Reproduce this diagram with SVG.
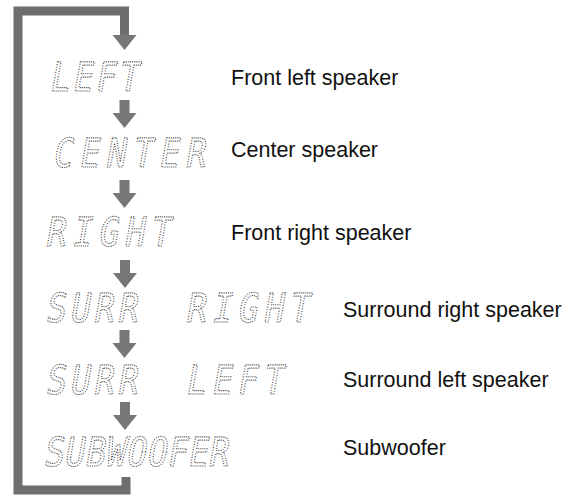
<svg xmlns="http://www.w3.org/2000/svg" width="574" height="497" viewBox="0 0 574 497">
<defs>
<style>
.seg{font-family:"DejaVu Sans Mono","Liberation Mono",monospace;font-size:40px;fill:none;stroke:#2a2a2a;stroke-width:1.1;stroke-dasharray:1.1 1.5}
.lbl{font-family:"Liberation Sans",Arial,sans-serif;font-size:21.5px;fill:#111}
.arr{fill:#777}
.bar{fill:none;stroke:#6e6e6e;stroke-width:9}
</style>
<g id="arrowShape">
<rect x="-5" y="-13" width="10" height="13"/>
<polygon points="-12,0 12,0 0,15"/>
</g>
</defs>
<rect width="574" height="497" fill="#fff"/>
<g id="connectors">
<path class="bar" d="M126,477 V490 H18 V11 H124.5 V36"/>
<polygon class="arr" points="112.5,35 136.5,35 124.5,50"/>
<use href="#arrowShape" class="arr" x="124.5" y="113"/>
<use href="#arrowShape" class="arr" x="124.5" y="193"/>
<use href="#arrowShape" class="arr" x="125" y="273"/>
<use href="#arrowShape" class="arr" x="124.5" y="343"/>
<use href="#arrowShape" class="arr" x="125" y="415"/>
</g>
<g id="node-left">
<text class="seg" transform="translate(49,91) skewX(-10) scale(0.82,1)" textLength="108" lengthAdjust="spacing">LEFT</text>
<text class="lbl" x="231" y="85">Front left speaker</text>
</g>
<g id="node-center">
<text class="seg" transform="translate(52,167) skewX(-10) scale(0.82,1)" textLength="186" lengthAdjust="spacing">CENTER</text>
<text class="lbl" x="231" y="157">Center speaker</text>
</g>
<g id="node-right">
<text class="seg" transform="translate(45,246) skewX(-10) scale(0.82,1)" textLength="152" lengthAdjust="spacing">RIGHT</text>
<text class="lbl" x="231" y="240">Front right speaker</text>
</g>
<g id="node-surr-right">
<text class="seg" transform="translate(45,322) skewX(-10) scale(0.82,1)"><tspan x="0" textLength="112" lengthAdjust="spacing">SURR</tspan> <tspan x="171" textLength="150" lengthAdjust="spacing">RIGHT</tspan></text>
<text class="lbl" x="343" y="317">Surround right speaker</text>
</g>
<g id="node-surr-left">
<text class="seg" transform="translate(45,394) skewX(-10) scale(0.82,1)"><tspan x="0" textLength="112" lengthAdjust="spacing">SURR</tspan> <tspan x="171" textLength="118" lengthAdjust="spacing">LEFT</tspan></text>
<text class="lbl" x="343" y="387">Surround left speaker</text>
</g>
<g id="node-subwoofer">
<text class="seg" transform="translate(43,466) skewX(-10) scale(0.82,1)" textLength="225" lengthAdjust="spacing">SUBWOOFER</text>
<text class="lbl" x="343" y="455">Subwoofer</text>
</g>
</svg>
